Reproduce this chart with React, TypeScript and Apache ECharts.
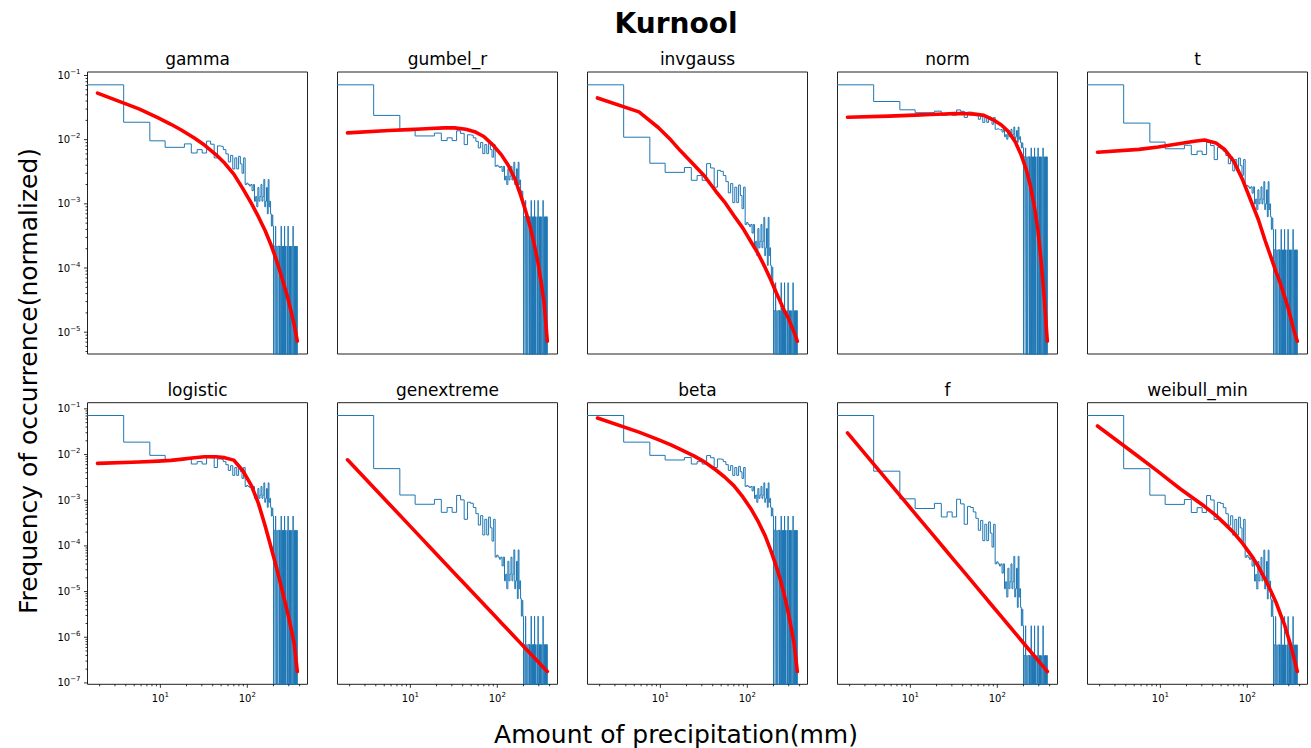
import React, { useEffect, useRef } from "react";
import * as echarts from "echarts";

// ---------------- data ----------------
const figureTitle = "Kurnool";
const xAxisTitle = "Amount of precipitation(mm)";
const yAxisTitle = "Frequency of occurrence(normalized)";
const panelNames = ["gamma", "gumbel_r", "invgauss", "norm", "t", "logistic", "genextreme", "beta", "f", "weibull_min"];

// histogram: 100 equal-width bins starting at 0 mm (density)
const binWidth = 3.78;
const histDensity = [
  0.0716, 0.0187, 0.0096, 0.0076, 0.0076, 0.0086, 0.0062, 0.0070, 0.0062, 0.0095,
  0.0085, 0.0052, 0.0080, 0.0078, 0.0070, 0.0060, 0.0045, 0.0057, 0.0035, 0.0052,
  0.0035, 0.0055, 0.0042, 0.0030, 0.0052, 0.0020, 0.0021, 0.0020, 0.0019, 0.0020,
  0.0016, 0.0020, 0.0011, 0.0013, 0.0009, 0.0018, 0.0011, 0.0013, 0.0020, 0.0011,
  0.0013, 0.0024, 0.0009, 0.0011, 0.0018, 0.0007, 0.0024, 0.0009, 0.0011, 0.0007,
  0.00045, 0.00067, 0.00045, 0, 0.00022, 0.00022, 0.00045, 0, 0.00022, 0,
  0.00022, 0.00022, 0, 0.00022, 0, 0.00045, 0, 0.00022, 0, 0.00022,
  0, 0.00045, 0, 0.00022, 0, 0, 0.00022, 0, 0.00045, 0,
  0, 0.00022, 0, 0.00022, 0, 0, 0.00022, 0, 0, 0.00045,
  0, 0, 0.00022, 0, 0, 0.00022, 0, 0.00022, 0, 0.00022,
];

// fitted pdf curves, read at these bin centres (mm); values are log10(pdf)
const curveX = [1.89, 5.67, 9.45, 13.23, 17.01, 24.57, 32.13, 43.47, 54.81, 69.93, 88.83, 111.51, 134.19, 160.65, 187.11, 213.57, 240.03, 266.49, 292.95, 319.41, 345.87, 376.11];
const gammaLog = [-1.275, -1.52, -1.661, -1.76, -1.842, -1.974, -2.084, -2.232, -2.364, -2.536, -2.763, -2.993, -3.2, -3.42, -3.638, -3.854, -4.073, -4.28, -4.472, -4.677, -4.877, -5.14];
const gumbelLog = [-2.061, -2.017, -1.998, -1.987, -1.978, -1.966, -1.966, -1.991, -2.038, -2.13, -2.29, -2.48, -2.684, -2.95, -3.266, -3.568, -3.865, -4.191, -4.519, -4.909, -5.303, -6.03];
const invgaussLog = [-1.291, -1.446, -1.62, -1.76, -1.88, -2.04, -2.16, -2.33, -2.45, -2.6, -2.74, -2.9, -3.03, -3.18, -3.32, -3.45, -3.56, -3.66, -3.73, -3.82, -3.9, -3.998];
const normLog = [-2.279, -2.238, -2.213, -2.194, -2.182, -2.163, -2.153, -2.153, -2.168, -2.209, -2.357, -2.55, -2.78, -3.13, -3.579, -4.07, -4.66, -5.38, -6.2, -7.3, -8.55, -10.1];
const tLog = [-2.171, -2.128, -2.092, -2.062, -2.04, -2.005, -1.985, -2.03, -2.13, -2.31, -2.6, -2.93, -3.2, -3.52, -3.77, -3.99, -4.17, -4.36, -4.53, -4.72, -4.9, -5.05];
const logisticLog = [-2.194, -2.162, -2.145, -2.128, -2.106, -2.07, -2.048, -2.048, -2.068, -2.122, -2.354, -2.682, -3.069, -3.563, -4.023, -4.432, -4.811, -5.162, -5.483, -5.814, -6.134, -6.75];
const genextremeLog = [-1.631, -2.113, -2.337, -2.485, -2.595, -2.757, -2.875, -3.007, -3.109, -3.216, -3.321, -3.421, -3.502, -3.581, -3.648, -3.706, -3.757, -3.803, -3.845, -3.883, -3.918, -3.954];
const betaLog = [-1.2, -1.51, -1.673, -1.788, -1.887, -2.036, -2.16, -2.338, -2.491, -2.68, -2.927, -3.204, -3.475, -3.78, -4.11, -4.427, -4.74, -5.078, -5.416, -5.785, -6.148, -6.75];
const fLog = [-1.327, -1.846, -2.087, -2.246, -2.364, -2.538, -2.664, -2.807, -2.917, -3.032, -3.145, -3.252, -3.339, -3.424, -3.496, -3.559, -3.614, -3.663, -3.708, -3.749, -3.786, -3.826];
const weibullLog = [-1.26, -1.6, -1.76, -1.87, -1.95, -2.06, -2.14, -2.24, -2.33, -2.43, -2.55, -2.68, -2.8, -2.94, -3.07, -3.19, -3.32, -3.43, -3.56, -3.68, -3.81, -3.95];

const curveLogs = [gammaLog, gumbelLog, invgaussLog, normLog, tLog, logisticLog, genextremeLog, betaLog, fLog, weibullLog];

// ---------------- layout ----------------
const W = 1311;
const H = 748;
const gridLeft0 = 87.5;
const gridStep = 250;
const gridW = 220;
const rowTop = [72, 402.7];
const rowH = [282, 281.6];
const FONT = "DejaVu Sans";
const HIST_COLOR = "#1f77b4";

function powLabel(v: number): string {
  const e = Math.log10(v);
  const r = Math.round(e);
  if (Math.abs(e - r) > 0.02) return "";
  return `{b|10}{s|${r < 0 ? "\u2212" + -r : r}}`;
}

const labelRich = {
  b: { fontSize: 10, fontFamily: FONT, color: "#000", lineHeight: 14 },
  s: { fontSize: 7, fontFamily: FONT, color: "#000", lineHeight: 6, verticalAlign: "top" },
};

function buildOption() {
  const nb = histDensity.length;
  const edges: number[] = [];
  for (let i = 0; i <= nb; i++) edges.push(i * binWidth);

  // x range: log data range + 5 % margins (like matplotlib)
  const xs = curveX.concat(edges.filter((e) => e > 0));
  const lxlo = Math.log10(Math.min(...xs));
  const lxhi = Math.log10(Math.max(...xs));
  const xm = 0.05 * (lxhi - lxlo);
  const xMin = Math.pow(10, lxlo - xm);
  const xMax = Math.pow(10, lxhi + xm);
  const xFloor = xMin / 1000;

  const xMajor = [1, 10, 100, 1000];
  const xMinor: number[] = [];
  for (const d of [1, 10, 100]) for (let m = 2; m <= 9; m++) xMinor.push(m * d);
  const yMajor: number[] = [];
  const yMinor: number[] = [];
  for (let e = -12; e <= 0; e++) {
    yMajor.push(Math.pow(10, e));
    for (let m = 2; m <= 9; m++) yMinor.push(m * Math.pow(10, e));
  }

  const grids: any[] = [];
  const xAxes: any[] = [];
  const yAxes: any[] = [];
  const series: any[] = [];
  const graphics: any[] = [];

  panelNames.forEach((name, k) => {
    const row = Math.floor(k / 5);
    const col = k % 5;
    const left = gridLeft0 + gridStep * col;
    const top = rowTop[row];
    const height = rowH[row];

    const curve = curveLogs[k].map((l) => Math.pow(10, l));
    const vals = histDensity.filter((v) => v > 0).concat(curve);
    const lo = Math.log10(Math.min(...vals));
    const hi = Math.log10(Math.max(...vals));
    const ym = 0.05 * (hi - lo);
    const yMin = Math.pow(10, lo - ym);
    const yMax = Math.pow(10, hi + ym);
    const yFloor = yMin / 1e6;

    grids.push({ left, top, width: gridW, height, show: true, borderColor: "#222", borderWidth: 1, backgroundColor: "transparent" });

    xAxes.push({
      type: "log", logBase: 10, gridIndex: k, min: xMin, max: xMax, splitNumber: 10,
      axisLine: { show: false }, axisTick: { show: false }, splitLine: { show: false },
      axisLabel: { show: row === 1, formatter: powLabel, rich: labelRich, margin: 7, showMinLabel: true, showMaxLabel: true },
    });
    yAxes.push({
      type: "log", logBase: 10, gridIndex: k, min: yMin, max: yMax, splitNumber: 12,
      axisLine: { show: false }, axisTick: { show: false }, splitLine: { show: false },
      axisLabel: { show: col === 0, formatter: powLabel, rich: labelRich, margin: 7, showMinLabel: true, showMaxLabel: true },
    });

    // step histogram (outline of the bars)
    const hist: number[][] = [];
    for (let i = 0; i < nb; i++) {
      const v = histDensity[i] > 0 ? histDensity[i] : yFloor;
      hist.push([Math.max(edges[i], xFloor), v]);
      hist.push([edges[i + 1], v]);
    }
    hist.push([edges[nb], yFloor]);
    series.push({
      type: "line", xAxisIndex: k, yAxisIndex: k, data: hist, showSymbol: false, silent: true, clip: true,
      lineStyle: { color: HIST_COLOR, width: 1 }, z: 2,
    });

    // fitted curve (straight segments between bin centres)
    series.push({
      type: "line", xAxisIndex: k, yAxisIndex: k, data: curveX.map((x, i) => [x, curve[i]]),
      showSymbol: false, silent: true, smooth: false, clip: true,
      lineStyle: { color: "#ff0000", width: 3.6, cap: "round", join: "round" }, z: 3,
    });

    // ticks (major + minor), drawn through the axes' scales
    if (row === 1) {
      const items = xMajor.filter((v) => v >= xMin && v <= xMax).map((v) => [v, 3.5])
        .concat(xMinor.filter((v) => v >= xMin && v <= xMax).map((v) => [v, 2]));
      series.push({
        type: "custom", xAxisIndex: k, yAxisIndex: k, silent: true, z: 5, data: items,
        renderItem: (_p: any, api: any) => {
          const pt = api.coord([api.value(0), yMin]);
          return { type: "line", shape: { x1: pt[0], y1: pt[1], x2: pt[0], y2: pt[1] + api.value(1) }, style: { stroke: "#000", lineWidth: 0.8 } };
        },
      });
    }
    if (col === 0) {
      const items = yMajor.filter((v) => v >= yMin && v <= yMax).map((v) => [v, 3.5])
        .concat(yMinor.filter((v) => v >= yMin && v <= yMax).map((v) => [v, 2]));
      series.push({
        type: "custom", xAxisIndex: k, yAxisIndex: k, silent: true, z: 5, data: items,
        renderItem: (_p: any, api: any) => {
          const pt = api.coord([xMin, api.value(0)]);
          return { type: "line", shape: { x1: pt[0], y1: pt[1], x2: pt[0] - api.value(1), y2: pt[1] }, style: { stroke: "#000", lineWidth: 0.8 } };
        },
      });
    }

    graphics.push({
      type: "text", x: left + gridW / 2, y: top - 13,
      style: { text: name, font: `17px '${FONT}'`, fill: "#000", textAlign: "center", textVerticalAlign: "middle", align: "center", verticalAlign: "middle" },
    });
  });

  graphics.push({
    type: "text", x: 676, y: 23,
    style: { text: figureTitle, font: `bold 28px '${FONT}'`, fill: "#000", textAlign: "center", textVerticalAlign: "middle", align: "center", verticalAlign: "middle" },
  });
  graphics.push({
    type: "text", x: 676, y: 734,
    style: { text: xAxisTitle, font: `25px '${FONT}'`, fill: "#000", textAlign: "center", textVerticalAlign: "middle", align: "center", verticalAlign: "middle" },
  });
  graphics.push({
    type: "text", x: 28, y: 381, rotation: Math.PI / 2,
    style: { text: yAxisTitle, font: `25px '${FONT}'`, fill: "#000", textAlign: "center", textVerticalAlign: "middle", align: "center", verticalAlign: "middle" },
  });

  return {
    animation: false,
    backgroundColor: "#fff",
    grid: grids,
    xAxis: xAxes,
    yAxis: yAxes,
    series,
    graphic: graphics,
  };
}

export default function App() {
  const ref = useRef<HTMLDivElement>(null);
  useEffect(() => {
    if (!ref.current) return;
    const chart = echarts.init(ref.current, null, { renderer: "svg" });
    chart.setOption(buildOption() as any);
    return () => chart.dispose();
  }, []);
  return <div ref={ref} style={{ position: "fixed", left: 0, top: 0, width: W, height: H, background: "#fff" }} />;
}
